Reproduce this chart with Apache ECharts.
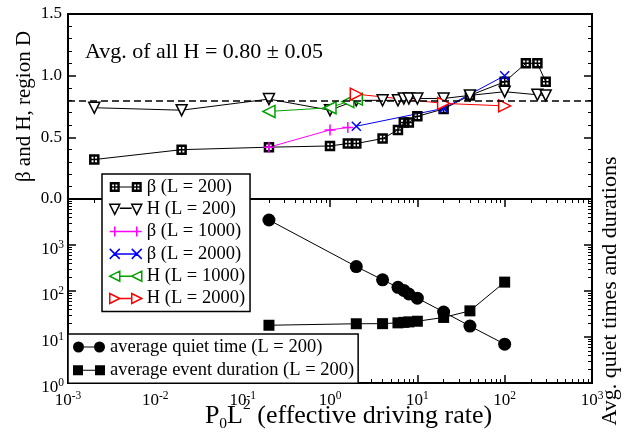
<!DOCTYPE html>
<html><head><meta charset="utf-8">
<script src="https://cdn.jsdelivr.net/npm/echarts@6/dist/echarts.min.js"></script>
<style>html,body{margin:0;padding:0;background:#fff}#c{width:633px;height:445px}</style>
</head><body><div id="c"></div>
<script>
// ---- data ----
const betaL200_x = [0.002, 0.02, 0.2, 1, 1.6, 2, 4, 6, 7, 8, 10, 20, 40, 100, 175, 237, 295];
const betaL200_y = [0.32, 0.40, 0.42, 0.43, 0.45, 0.45, 0.49, 0.56, 0.62, 0.62, 0.67, 0.73, 0.84, 0.95, 1.10, 1.10, 0.95];
const hL200_x = [0.002, 0.02, 0.2, 1, 2, 4, 6, 7, 8, 10, 20, 40, 100, 237, 295];
const hL200_y = [0.74, 0.72, 0.81, 0.72, 0.80, 0.80, 0.80, 0.815, 0.815, 0.815, 0.815, 0.84, 0.87, 0.845, 0.84];
const betaL1000_x = [0.2, 1, 1.6];
const betaL1000_y = [0.42, 0.56, 0.58];
const betaL2000_x = [2, 20, 100];
const betaL2000_y = [0.59, 0.735, 1.0];
const hL1000_x = [0.2, 1, 1.6, 2];
const hL1000_y = [0.71, 0.74, 0.79, 0.81];
const hL2000_x = [2, 20, 100];
const hL2000_y = [0.85, 0.775, 0.755];
const quiet_x = [0.2, 2, 4, 6, 7, 8, 10, 20, 40, 100];
const quiet_y = [3500, 340, 175, 120, 103, 86, 70, 35, 17.3, 7.0];
const dur_x = [0.2, 2, 4, 6, 7, 8, 10, 20, 40, 100];
const dur_y = [18, 19.4, 19.5, 20.3, 20.8, 21.3, 22, 26.6, 37, 156];
const avgH = 0.8;
const annotationText = 'Avg. of all H = 0.80 ± 0.05';
const xMajor = [0.001, 0.01, 0.1, 1, 10, 100, 1000];
const yLogMajor = [1, 10, 100, 1000, 10000];
const yLogLabels = [1, 10, 100, 1000];
const seriesNames = ['β (L = 200)', 'H (L = 200)', 'β (L = 1000)', 'β (L = 2000)', 'H (L = 1000)', 'H (L = 2000)'];
const bottomNames = ['average quiet time (L = 200)', 'average event duration (L = 200)'];

// ---- helpers ----
const SERIF = 'Liberation Serif';
function zip(xs, ys) { return xs.map((x, i) => [x, ys[i]]); }
function minorLog(e0, e1) {
  const out = [];
  for (let e = e0; e < e1; e++) for (let k = 2; k <= 9; k++) out.push(+(k * Math.pow(10, e)).toPrecision(3));
  return out;
}
const xMinor = minorLog(-3, 3);
const yMinor = minorLog(0, 4);
function powLabel(v) { return '{b|10}{s|' + Math.round(Math.log10(v)) + '}'; }
const powRich = {
  b: { fontFamily: SERIF, fontSize: 17, lineHeight: 22, color: '#000' },
  s: { fontFamily: SERIF, fontSize: 11.5, lineHeight: 12, verticalAlign: 'top', color: '#000' }
};

const SQ_DOT = 'path://M0,0H10V10H0Z M2.4,2.4V4.3H4.3V2.4Z M5.7,2.4V4.3H7.6V2.4Z M2.4,5.7V7.6H4.3V5.7Z M5.7,5.7V7.6H7.6V5.7Z';
const PLUS = 'path://M0,5H10M5,0V10';
const CROSS = 'path://M0,0L10,10M10,0L0,10';

const LG_SQ_DOT = 'path://M0,0H10V10H0Z M2.4,2.4V4.3H4.3V2.4Z M5.7,2.4V4.3H7.6V2.4Z M2.4,5.7V7.6H4.3V5.7Z M5.7,5.7V7.6H7.6V5.7Z M10,4.5H22V5.5H10Z M22,0H32V10H22Z M24.4,2.4V4.3H26.3V2.4Z M27.7,2.4V4.3H29.6V2.4Z M24.4,5.7V7.6H26.3V5.7Z M27.7,5.7V7.6H29.6V5.7Z';
const LG_TRI_DOWN = 'path://M0,0H10L5,10Z M10,4H22 M22,0H32L27,10Z';
const LG_PLUS = 'path://M0,5H10M5,0V10M5,5H27M22,5H32M27,0V10';
const LG_CROSS = 'path://M0,0L10,10M10,0L0,10M5,5H27M22,0L32,10M32,0L22,10';
const LG_TRI_LEFT = 'path://M0,5L10,0V10Z M10,5H22 M22,5L32,0V10Z';
const LG_TRI_RIGHT = 'path://M10,5L0,0V10Z M10,5H22 M32,5L22,0V10Z';
const LG_CIRC = 'path://M0,5.5a5.5,5.5 0 1,0 11,0a5.5,5.5 0 1,0 -11,0Z M11,5H21V6H11Z M21,5.5a5.5,5.5 0 1,0 11,0a5.5,5.5 0 1,0 -11,0Z';
const LG_SQ = 'path://M0,0.5H10V10.5H0Z M10,5H22V6H10Z M22,0.5H32V10.5H22Z';

const GREEN = '#00a000', RED = '#ff0000', BLUE = '#0000ff', MAG = '#ff00ff';

function tickAxis(base, values, len, width) {
  return Object.assign({
    axisLine: { show: false },
    axisTick: { show: true, inside: true, length: len, customValues: values, lineStyle: { color: '#000', width: width } },
    axisLabel: { show: false },
    splitLine: { show: false }
  }, base);
}

const xAxis = [
  tickAxis({ gridIndex: 0, type: 'log', min: 0.001, max: 1000, position: 'top' }, xMajor, 8, 1.5),
  tickAxis({ gridIndex: 0, type: 'log', min: 0.001, max: 1000, position: 'top' }, xMinor, 4, 1),
  {
    gridIndex: 1, type: 'log', min: 0.001, max: 1000, position: 'bottom',
    axisLine: { show: false },
    axisTick: { show: true, inside: true, length: 8, customValues: xMajor, lineStyle: { color: '#000', width: 1.5 } },
    axisLabel: { show: true, customValues: xMajor, formatter: powLabel, rich: powRich, margin: 7 },
    splitLine: { show: false },
    name: '{n|P}{sub|0}{n|L}{sup|2}{n| (effective driving rate)}',
    nameLocation: 'middle', nameGap: 13, nameMoveOverlap: false,
    nameTextStyle: {
      fontFamily: SERIF, fontSize: 26, color: '#000', padding: [0, 0, 0, 37],
      rich: {
        n: { fontFamily: SERIF, fontSize: 26, lineHeight: 40, color: '#000' },
        sub: { fontFamily: SERIF, fontSize: 15.5, lineHeight: 15, verticalAlign: 'bottom', padding: [0, 0, 4.5, 0], color: '#000' },
        sup: { fontFamily: SERIF, fontSize: 15.5, lineHeight: 15, verticalAlign: 'top', padding: [1, 0, 0, 0], color: '#000' }
      }
    }
  },
  tickAxis({ gridIndex: 1, type: 'log', min: 0.001, max: 1000, position: 'bottom' }, xMinor, 4, 1)
];

const yAxis = [
  {
    gridIndex: 0, type: 'value', min: 0, max: 1.5, interval: 0.5, position: 'left',
    axisLine: { show: false },
    axisTick: { show: true, inside: true, length: 8, lineStyle: { color: '#000', width: 1.5 } },
    minorTick: { show: true, splitNumber: 5, length: 4, lineStyle: { color: '#000', width: 1 } },
    axisLabel: { formatter: v => v.toFixed(1), fontFamily: SERIF, fontSize: 17, color: '#000', margin: 6 },
    splitLine: { show: false },
    name: 'β and H, region D', nameLocation: 'middle', nameGap: 33, nameRotate: 90, nameMoveOverlap: false,
    nameTextStyle: { fontFamily: SERIF, fontSize: 21, color: '#000' }
  },
  {
    gridIndex: 0, type: 'value', min: 0, max: 1.5, interval: 0.5, position: 'right',
    axisLine: { show: false },
    axisTick: { show: true, inside: true, length: 8, lineStyle: { color: '#000', width: 1.5 } },
    minorTick: { show: true, splitNumber: 5, length: 4, lineStyle: { color: '#000', width: 1 } },
    axisLabel: { show: false }, splitLine: { show: false }
  },
  {
    gridIndex: 1, type: 'log', min: 1, max: 10000, position: 'left',
    axisLine: { show: false },
    axisTick: { show: true, inside: true, length: 8, customValues: yLogMajor, lineStyle: { color: '#000', width: 1.5 } },
    axisLabel: { show: true, customValues: yLogLabels, formatter: powLabel, rich: powRich, margin: 4, padding: [10, 0, 0, 0] },
    splitLine: { show: false }
  },
  tickAxis({ gridIndex: 1, type: 'log', min: 1, max: 10000, position: 'left' }, yMinor, 4, 1),
  {
    gridIndex: 1, type: 'log', min: 1, max: 10000, position: 'right',
    axisLine: { show: false },
    axisTick: { show: true, inside: true, length: 8, customValues: yLogMajor, lineStyle: { color: '#000', width: 1.5 } },
    axisLabel: { show: false }, splitLine: { show: false },
    name: 'Avg. quiet times and durations', nameLocation: 'middle', nameGap: 7, nameRotate: 90, nameMoveOverlap: false,
    nameTextStyle: { fontFamily: SERIF, fontSize: 22, color: '#000', verticalAlign: 'top' }
  },
  tickAxis({ gridIndex: 1, type: 'log', min: 1, max: 10000, position: 'right' }, yMinor, 4, 1)
];

function lineSeries(name, data, xi, yi, symbol, size, itemStyle, lineColor, extra) {
  return Object.assign({
    name, type: 'line', data, xAxisIndex: xi, yAxisIndex: yi,
    symbol, symbolSize: size, showAllSymbol: true,
    itemStyle, lineStyle: { color: lineColor, width: 1 },
    emphasis: { disabled: true }, silent: true
  }, extra || {});
}

const series = [
  lineSeries(seriesNames[0], zip(betaL200_x, betaL200_y), 0, 0, SQ_DOT, 10.5, { color: '#000' }, '#000'),
  lineSeries(seriesNames[1], zip(hL200_x, hL200_y), 0, 0, 'triangle', 11, { color: '#fff', borderColor: '#000', borderWidth: 1.5 }, '#000', {
    symbolRotate: 180,
    markLine: {
      silent: true, symbol: ['none', 'none'], label: { show: false },
      lineStyle: { color: '#000', type: [7, 4], width: 1.5 },
      data: [{ yAxis: avgH }]
    }
  }),
  lineSeries(seriesNames[2], zip(betaL1000_x, betaL1000_y), 0, 0, PLUS, 11, { color: MAG, borderColor: MAG, borderWidth: 1.5 }, MAG),
  lineSeries(seriesNames[3], zip(betaL2000_x, betaL2000_y), 0, 0, CROSS, 9, { color: BLUE, borderColor: BLUE, borderWidth: 1.5 }, BLUE),
  lineSeries(seriesNames[4], zip(hL1000_x, hL1000_y), 0, 0, 'triangle', 12, { color: '#fff', borderColor: GREEN, borderWidth: 1.5 }, GREEN, { symbolRotate: 90 }),
  lineSeries(seriesNames[5], zip(hL2000_x, hL2000_y), 0, 0, 'triangle', 12, { color: '#fff', borderColor: RED, borderWidth: 1.5 }, RED, { symbolRotate: -90 }),
  lineSeries(bottomNames[0], zip(quiet_x, quiet_y), 2, 2, 'circle', 13, { color: '#000' }, '#000'),
  lineSeries(bottomNames[1], zip(dur_x, dur_y), 2, 2, 'rect', 11, { color: '#000' }, '#000')
];

const legendText = { fontFamily: SERIF, fontSize: 18.5, color: '#000', lineHeight: 20 };
const option = {
  animation: false,
  textStyle: { fontFamily: SERIF, color: '#000' },
  title: {
    text: annotationText, left: 85, top: 41, padding: 0,
    textStyle: { fontFamily: SERIF, fontSize: 22, fontWeight: 'normal', color: '#000' }
  },
  grid: [
    { left: 68, right: 41, top: 14, height: 185, show: true, borderColor: '#000', borderWidth: 2, backgroundColor: 'transparent' },
    { left: 68, right: 41, top: 199, height: 184, show: true, borderColor: '#000', borderWidth: 2, backgroundColor: 'transparent' }
  ],
  legend: [
    {
      orient: 'vertical', left: 102, top: 174, padding: [3, 5, 3, 7],
      itemWidth: 32, itemHeight: 10, itemGap: 2.3, selectedMode: false,
      backgroundColor: '#fff', borderColor: '#000', borderWidth: 1.5, borderRadius: 0,
      textStyle: legendText, z: 20,
      data: [
        { name: seriesNames[0], icon: LG_SQ_DOT, itemStyle: { color: '#000', borderWidth: 0 } },
        { name: seriesNames[1], icon: LG_TRI_DOWN, itemStyle: { color: '#fff', borderColor: '#000', borderWidth: 1.5 } },
        { name: seriesNames[2], icon: LG_PLUS, itemStyle: { color: MAG, borderColor: MAG, borderWidth: 1.5 } },
        { name: seriesNames[3], icon: LG_CROSS, itemStyle: { color: BLUE, borderColor: BLUE, borderWidth: 1.5 } },
        { name: seriesNames[4], icon: LG_TRI_LEFT, itemStyle: { color: '#fff', borderColor: GREEN, borderWidth: 1.5 } },
        { name: seriesNames[5], icon: LG_TRI_RIGHT, itemStyle: { color: '#fff', borderColor: RED, borderWidth: 1.5 } }
      ]
    },
    {
      orient: 'vertical', left: 68, top: 334, padding: [3, 4, 3, 5],
      itemWidth: 32, itemHeight: 11, itemGap: 3.3, selectedMode: false,
      backgroundColor: '#fff', borderColor: '#000', borderWidth: 1.5, borderRadius: 0,
      textStyle: legendText, z: 20,
      data: [
        { name: bottomNames[0], icon: LG_CIRC, itemStyle: { color: '#000', borderWidth: 0 } },
        { name: bottomNames[1], icon: LG_SQ, itemStyle: { color: '#000', borderWidth: 0 } }
      ]
    }
  ],
  xAxis, yAxis, series
};
const chart = echarts.init(document.getElementById('c'), null, { renderer: 'canvas' });
chart.setOption(option);
</script>
</body></html>
